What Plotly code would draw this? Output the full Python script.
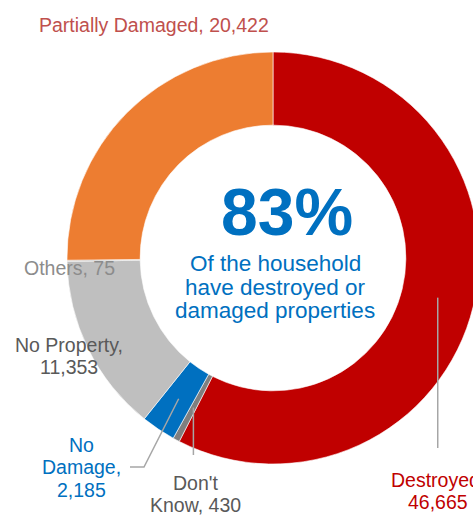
import math
import plotly.graph_objects as go

# ---- data ----
categories = ["Destroyed", "Don't Know", "No Damage", "No Property", "Others", "Partially Damaged"]
values = [46665, 430, 2185, 11353, 75, 20422]
colors = ["#C00000", "#7F7F7F", "#0070C0", "#BFBFBF", "#A5A5A5", "#ED7D31"]
headline = "83%"
subtitle_lines = ["Of the household", "have destroyed or", "damaged properties"]

# ---- geometry (pixels) ----
W, H = 490, 515
CX, CY, R = 273, 258, 206
HOLE = 0.645

def px(x):
    return x / W

def py(y):
    return 1 - y / H

fig = go.Figure(go.Pie(
    labels=categories,
    values=values,
    marker=dict(colors=colors, line=dict(color="white", width=0.6)),
    hole=HOLE,
    sort=False,
    direction="clockwise",
    rotation=0,
    textinfo="none",
    hoverinfo="label+value",
    showlegend=False,
    domain=dict(x=[px(CX - R), px(CX + R)], y=[py(CY + R), py(CY - R)]),
))

# slice mid angles (degrees clockwise from 12 o'clock) computed from data
total = sum(values)
mids = {}
acc = 0
for c, v in zip(categories, values):
    mids[c] = (acc + v / 2) / total * 360
    acc += v

RMID = R * (1 + HOLE) / 2

def ring_point(cat):
    a = math.radians(mids[cat])
    return CX + RMID * math.sin(a), CY - RMID * math.cos(a)

line_style = dict(color="#A6A6A6", width=1.5)
shapes = []
x0, y0 = ring_point("No Damage")
shapes.append(dict(type="path", xref="paper", yref="paper",
                   path=f"M {px(x0)},{py(y0)} L {px(144)},{py(467)} L {px(130)},{py(467)}",
                   line=line_style))
x0, y0 = ring_point("Don't Know")
shapes.append(dict(type="line", xref="paper", yref="paper",
                   x0=px(x0), y0=py(y0), x1=px(x0), y1=py(455), line=line_style))
x0, y0 = ring_point("Destroyed")
shapes.append(dict(type="line", xref="paper", yref="paper",
                   x0=px(x0), y0=py(y0), x1=px(x0), y1=py(448), line=line_style))

FONT = "Liberation Sans, Arial, sans-serif"
LF = 19.5      # label font size
LS = 22.5      # label line spacing

def ann(text, x, y, color, xanchor="center", size=LF, bold=False):
    return dict(text=f"<b>{text}</b>" if bold else text, x=px(x), y=py(y),
                xref="paper", yref="paper", showarrow=False,
                xanchor=xanchor, yanchor="middle", align="center",
                font=dict(family=FONT, size=size, color=color))

def block(lines, x, yc, color, spacing=LS, size=LF, xanchor="center"):
    n = len(lines)
    out = []
    for i, t in enumerate(lines):
        y = yc + (i - (n - 1) / 2) * spacing
        out.append(ann(t, x, y, color, xanchor=xanchor, size=size))
    return out

annotations = []
annotations.append(ann(f"{categories[5]}, {values[5]:,}", 37, 25, "#C0504D", xanchor="left"))
annotations.append(ann(f"{categories[4]}, {values[4]:,}", 22, 268, "#8C8C8C", xanchor="left"))
annotations += block([f"{categories[3]},", f"{values[3]:,}"], 69, 356, "#595959")
annotations += block(["No", "Damage,", f"{values[2]:,}"], 81, 467, "#0070C0")
annotations += block(["Don't", f"Know, {values[1]:,}"], 195, 494, "#595959")
annotations += block([f"{categories[0]},", f"{values[0]:,}"], 438, 491, "#C00000")
annotations.append(ann(headline, 287, 212, "#0070C0", size=66, bold=True))
annotations += block(subtitle_lines, 275, 287, "#0070C0", spacing=23.5, size=22.5)

fig.update_layout(
    width=W, height=H,
    margin=dict(l=0, r=0, t=0, b=0),
    paper_bgcolor="white", plot_bgcolor="white",
    shapes=shapes, annotations=annotations,
    font=dict(family=FONT),
)

fig.write_html("out.html",
               config={"displayModeBar": False},
               post_script="document.body.style.margin='0';document.body.style.overflow='hidden';")
